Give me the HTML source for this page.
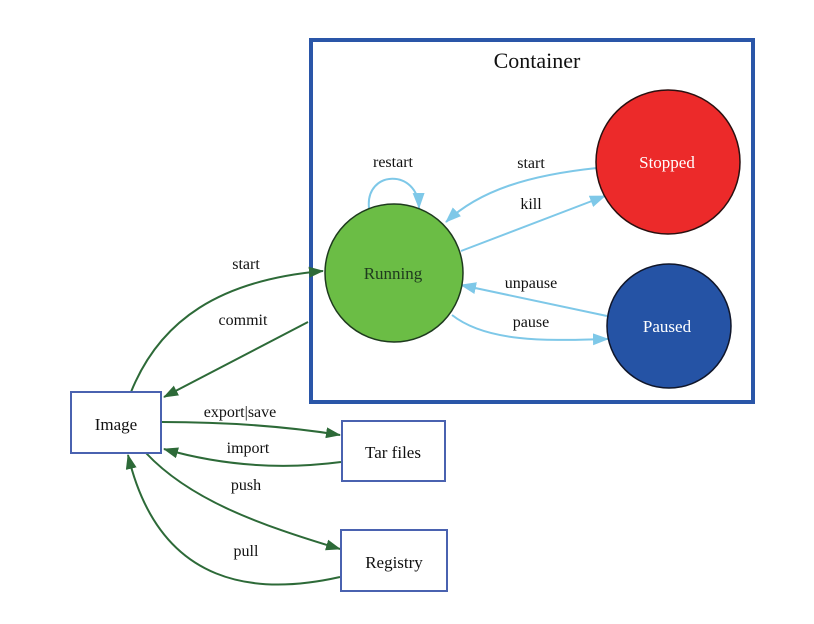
<!DOCTYPE html>
<html><head><meta charset="utf-8"><style>
html,body{margin:0;padding:0;background:#fff;}
svg{display:block;}
</style></head><body>
<svg width="814" height="624" viewBox="0 0 814 624" xmlns="http://www.w3.org/2000/svg" font-family="'Liberation Serif', 'Times New Roman', serif">
<defs>
<marker id="g" markerWidth="15" markerHeight="11" refX="14" refY="5.5" orient="auto" markerUnits="userSpaceOnUse"><path d="M0,0 L15,5.5 L0,11 z" fill="#2d6a38"/></marker>
<marker id="b" markerWidth="16" markerHeight="12" refX="15" refY="6" orient="auto" markerUnits="userSpaceOnUse"><path d="M0,0 L16,6 L0,12 z" fill="#7ec8e8"/></marker>
</defs>
<rect x="311" y="40" width="442" height="362" fill="none" stroke="#2a56a8" stroke-width="4"/>
<text x="537" y="68" font-size="22" text-anchor="middle" fill="#111" font-family="'Liberation Serif', serif">Container</text>

<g fill="none" stroke="#7ec8e8" stroke-width="2">
<path d="M369,208 C365,170 418,168 419,208" marker-end="url(#b)"/>
<path d="M597,168 C530,175 480,190 446,222" marker-end="url(#b)"/>
<path d="M461,251 L605,196" marker-end="url(#b)"/>
<path d="M607,316 L461,285" marker-end="url(#b)"/>
<path d="M452,315 C490,345 560,340 608,339" marker-end="url(#b)"/>
</g>
<circle cx="394" cy="273" r="69" fill="#6bbd45" stroke="#1e3a1e" stroke-width="1.5"/>
<circle cx="668" cy="162" r="72" fill="#ec2a2a" stroke="#2a1010" stroke-width="1.5"/>
<circle cx="669" cy="326" r="62" fill="#2553a5" stroke="#10162a" stroke-width="1.5"/>
<g font-family="'Liberation Serif', serif">
<text x="393" y="279" font-size="17" text-anchor="middle" fill="#1e3a1e">Running</text>
<text x="667" y="168" font-size="17" text-anchor="middle" fill="#fff">Stopped</text>
<text x="667" y="332" font-size="17" text-anchor="middle" fill="#fff">Paused</text>
<text x="393" y="167" font-size="16" text-anchor="middle" fill="#111">restart</text>
<text x="531" y="168" font-size="16" text-anchor="middle" fill="#111">start</text>
<text x="531" y="209" font-size="16" text-anchor="middle" fill="#111">kill</text>
<text x="531" y="288" font-size="16" text-anchor="middle" fill="#111">unpause</text>
<text x="531" y="327" font-size="16" text-anchor="middle" fill="#111">pause</text>
</g>

<g fill="none" stroke="#2d6a38" stroke-width="2">
<path d="M131,392 C160,320 220,280 323,271" marker-end="url(#g)"/>
<path d="M308,322 L164,397" marker-end="url(#g)"/>
<path d="M162,422 C230,422 290,427 340,435" marker-end="url(#g)"/>
<path d="M341,462 C280,470 220,465 164,449" marker-end="url(#g)"/>
<path d="M146,453 C190,500 260,525 340,549" marker-end="url(#g)"/>
<path d="M340,577 C260,595 160,590 128,455" marker-end="url(#g)"/>
</g>
<g font-family="'Liberation Serif', serif">
<text x="246" y="269" font-size="16" text-anchor="middle" fill="#111">start</text>
<text x="243" y="325" font-size="16" text-anchor="middle" fill="#111">commit</text>
<text x="240" y="417" font-size="16" text-anchor="middle" fill="#111">export|save</text>
<text x="248" y="453" font-size="16" text-anchor="middle" fill="#111">import</text>
<text x="246" y="490" font-size="16" text-anchor="middle" fill="#111">push</text>
<text x="246" y="556" font-size="16" text-anchor="middle" fill="#111">pull</text>
</g>

<rect x="71" y="392" width="90" height="61" fill="#fff" stroke="#4a62b0" stroke-width="2"/>
<rect x="342" y="421" width="103" height="60" fill="#fff" stroke="#4a62b0" stroke-width="2"/>
<rect x="341" y="530" width="106" height="61" fill="#fff" stroke="#4a62b0" stroke-width="2"/>
<g font-family="'Liberation Serif', serif">
<text x="116" y="430" font-size="17" text-anchor="middle" fill="#111">Image</text>
<text x="393" y="458" font-size="17" text-anchor="middle" fill="#111">Tar files</text>
<text x="394" y="568" font-size="17" text-anchor="middle" fill="#111">Registry</text>
</g>
</svg>
</body></html>
